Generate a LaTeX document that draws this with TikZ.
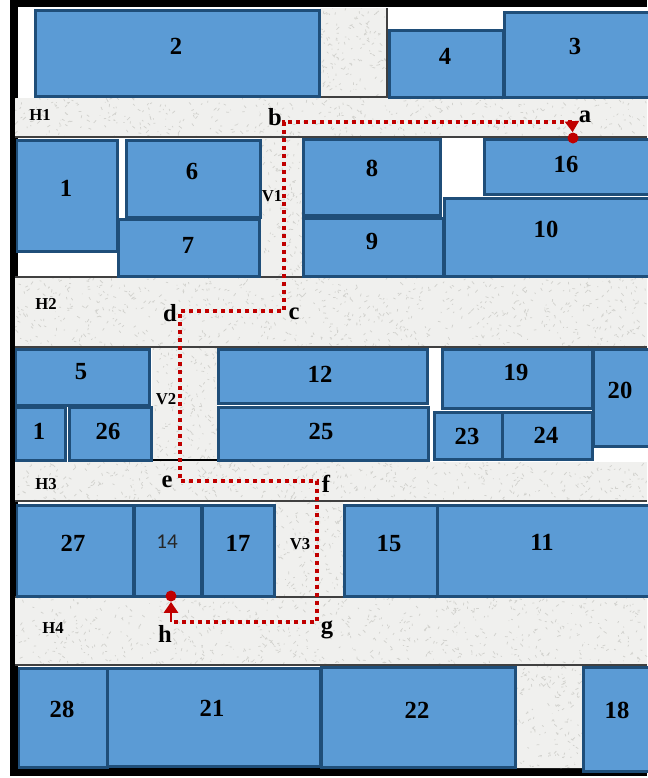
\documentclass[tikz,border=0pt]{standalone}
\usepackage{fontspec}
\setmainfont{Liberation Serif}
\newfontfamily\calibrifont{Carlito}
\usetikzlibrary{arrows.meta}
\definecolor{roomblue}{HTML}{5B9BD5}
\definecolor{roomedge}{HTML}{1F4E79}
\definecolor{routered}{HTML}{C00000}
\definecolor{corridor}{HTML}{F0F0EE}
\definecolor{speckle}{HTML}{D2D2CE}

\begin{document}
\begin{tikzpicture}[
    x=0.02cm, y=-0.02cm,
    room/.style={draw=roomedge, line width=0.6mm, fill=roomblue},
    num/.style={font=\bfseries\fontsize{14}{14}\selectfont, inner sep=0pt, text=black},
    hall/.style={font=\bfseries\fontsize{9.5}{10}\selectfont, inner sep=0pt, text=black},
    point/.style={font=\bfseries\fontsize{14}{14}\selectfont, inner sep=0pt},
    route/.style={draw=routered, line width=0.8mm, dash pattern=on 0.8mm off 0.8mm},
    tip/.style={draw=routered, line width=0.5mm, -{Triangle[length=2.2mm, width=2.8mm]}},
    stop/.style={circle, fill=routered, minimum size=2.2mm, inner sep=0pt},
    wall/.style={line width=0.25mm, color=black!75}
]
\useasboundingbox (0,0) rectangle (647,778);

% frame
\fill[black] (10,0) rectangle (647,776);
\fill[white] (18,7) rectangle (647,768);

% corridors
\begin{scope}
\clip (15,98) rectangle (647,137)
      (15,277) rectangle (647,347)
      (15,462) rectangle (647,501)
      (15,597) rectangle (647,665)
      (260,137) rectangle (302,277)
      (152,347) rectangle (217,462)
      (275,501) rectangle (343,597)
      (320,8) rectangle (387,98)
      (516,665) rectangle (582,768);
\fill[corridor] (0,0) rectangle (647,778);
\pgfmathsetseed{17}
\draw[speckle, line width=0.15mm] \foreach \i in {1,...,9000} { ({647*rnd},{778*rnd}) -- ++({6*rnd-3},{6*rnd-3}) };
\end{scope}
\draw[wall] (15,137) -- (647,137);
\draw[wall] (15,501) -- (647,501);
\draw[wall] (15,597) -- (647,597);
\draw[wall] (15,665) -- (647,665);
\draw[wall] (15,277) -- (647,277);
\draw[wall] (15,347) -- (647,347);
\draw[wall] (320,97) -- (387,97) -- (387,8);
\draw[wall, line width=0.4mm, color=black] (152,460) -- (217,460);

% rooms, top row
\draw[room] (35,10) rectangle (319,96); \node[num] (room2) at (176,46) {2};
\draw[room] (389,30) rectangle (503,97); \node[num] (room4) at (445,56) {4};
\draw[room] (504,12) rectangle (660,97); \node[num] (room3) at (575,46) {3};

\draw[room] (17,140) rectangle (117,251); \node[num] (room1) at (66,188) {1};
\draw[room] (126,140) rectangle (260,217); \node[num] (room6) at (192,171) {6};
\draw[room] (118,219) rectangle (259,276); \node[num] (room7) at (188,245) {7};
\draw[room] (303,139) rectangle (440,215); \node[num] (room8) at (372,168) {8};
\draw[room] (303,218) rectangle (443,276); \node[num] (room9) at (372,241) {9};
\draw[room] (484,139) rectangle (660,194); \node[num] (room16) at (566,164) {16};
\draw[room] (444,198) rectangle (660,276); \node[num] (room10) at (546,229) {10};

% rooms, middle rows
\draw[room] (16,349) rectangle (149,405); \node[num] (room5) at (81,372) {5};
\draw[room] (16,407) rectangle (65,460); \node[num] (room1b) at (39,431) {1};
\draw[room] (69,407) rectangle (151,460); \node[num] (room26) at (108,431) {26};
\draw[room] (218,349) rectangle (427,403); \node[num] (room12) at (320,374) {12};
\draw[room] (218,407) rectangle (428,460); \node[num] (room25) at (321,431) {25};
\draw[room] (442,349) rectangle (592,408); \node[num] (room19) at (516,372) {19};
\draw[room] (434,412) rectangle (502,459); \node[num] (room23) at (467,436) {23};
\draw[room] (502,412) rectangle (592,459); \node[num] (room24) at (546,435) {24};
\draw[room] (593,349) rectangle (660,446); \node[num] (room20) at (620,390) {20};

\draw[room] (17,505) rectangle (133,596); \node[num] (room27) at (73,543) {27};
\draw[room] (134,505) rectangle (201,596); \node[font=\calibrifont\fontsize{12}{12}\selectfont, inner sep=0pt, text=black!85] (room14) at (167,542) {14};
\draw[room] (202,505) rectangle (274,596); \node[num] (room17) at (238,543) {17};
\draw[room] (344,505) rectangle (437,596); \node[num] (room15) at (389,543) {15};
\draw[room] (437,505) rectangle (660,596); \node[num] (room11) at (542,542) {11};

% rooms, bottom row
\draw[room] (19,668) rectangle (107,767); \node[num] (room28) at (62,709) {28};
\draw[room] (107,668) rectangle (320,766); \node[num] (room21) at (212,708) {21};
\draw[room] (321,667) rectangle (515,767); \node[num] (room22) at (417,710) {22};
\draw[room] (583,667) rectangle (660,771); \node[num] (room18) at (617,710) {18};

% hall names
\node[hall] (h1) at (40,115) {H1};
\node[hall] (h2) at (46,304) {H2};
\node[hall] (h3) at (46,484) {H3};
\node[hall] (h4) at (53,628) {H4};
\node[hall] (v1) at (272,196) {V1};
\node[hall] (v2) at (166,399) {V2};
\node[hall] (v3) at (300,544) {V3};

% route
\coordinate (a) at (572,122);
\coordinate (b) at (284,122);
\coordinate (c) at (284,311);
\coordinate (d) at (180,311);
\coordinate (e) at (180,481);
\coordinate (f) at (317,481);
\coordinate (g) at (317,622);
\coordinate (h) at (171,622);
\node[stop] (start) at (573,138) {};
\node[stop] (goal) at (171,596) {};

\draw[route] (a) -- (b) -- (c) -- (d) -- (e) -- (f) -- (g) -- (h);
\draw[tip] (a) -- (start);
\draw[tip] (h) -- (goal);

\node[point] (la) at (585,117) {a};
\node[point] (lb) at (275,117) {b};
\node[point] (lc) at (294,314) {c};
\node[point] (ld) at (170,313) {d};
\node[point] (le) at (167,482) {e};
\node[point] (lf) at (326,484) {f};
\node[point] (lg) at (327,630) {g};
\node[point] (lh) at (165,634) {h};

\end{tikzpicture}
\end{document}
